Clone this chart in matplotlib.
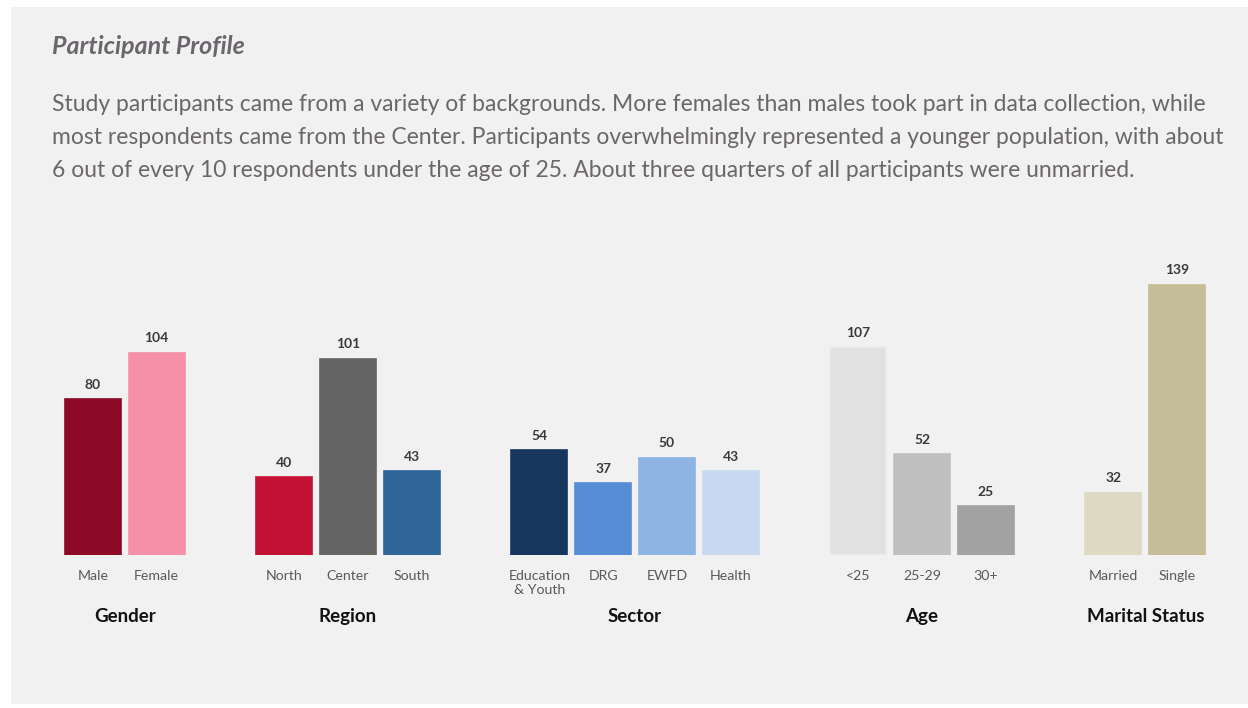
import matplotlib.pyplot as plt
from matplotlib.patches import Rectangle
from matplotlib.transforms import blended_transform_factory

# Participant counts per breakdown
group_names = ["Gender", "Region", "Sector", "Age", "Marital Status"]
gender_labels = ["Male", "Female"]
gender_counts = [80, 104]
region_labels = ["North", "Center", "South"]
region_counts = [40, 101, 43]
sector_labels = ["Education\n& Youth", "DRG", "EWFD", "Health"]
sector_counts = [54, 37, 50, 43]
age_labels = ["<25", "25-29", "30+"]
age_counts = [107, 52, 25]
marital_labels = ["Married", "Single"]
marital_counts = [32, 139]

gender_colors = ["#8c0a28", "#f590a8"]
region_colors = ["#c41234", "#646464", "#2f6699"]
sector_colors = ["#17375e", "#558ed5", "#8eb4e3", "#c6d9f1"]
age_colors = ["#e1e1e1", "#c0c0c0", "#a2a2a2"]
marital_colors = ["#ddd9c3", "#c4bd97"]

title = "Participant Profile"
body = ("Study participants came from a variety of backgrounds. More females than males took part in data collection, while\n"
        "most respondents came from the Center. Participants overwhelmingly represented a younger population, with about\n"
        "6 out of every 10 respondents under the age of 25. About three quarters of all participants were unmarried.")

groups = [
    (gender_labels, gender_counts, gender_colors),
    (region_labels, region_counts, region_colors),
    (sector_labels, sector_counts, sector_colors),
    (age_labels, age_counts, age_colors),
    (marital_labels, marital_counts, marital_colors),
]

W, H = 1248, 708
fig = plt.figure(figsize=(W / 100, H / 100), dpi=100)
fig.patch.set_facecolor("white")
fig.patches.append(Rectangle((11 / W, 4 / H), 1 - 11 / W, (H - 11) / H,
                             transform=fig.transFigure, facecolor="#f1f1f1",
                             edgecolor="none", zorder=-1))

fig.text(52 / W, 1 - 47 / H, title, fontsize=18, fontweight="bold", style="italic",
         color="#6b666b", family="Lato", va="center")
fig.text(52 / W, 1 - 94 / H, body, fontsize=16.5, color="#6b666b", family="Lato",
         va="top", linespacing=1.7)

# one slot gap between groups
left_px, right_px = 29, 1241
base_px, scale = 555, 1.945
ymax = 150
ax = fig.add_axes([left_px / W, (H - base_px) / H, (right_px - left_px) / W, ymax * scale / H])
ax.set_facecolor("none")
ax.set_xlim(-1, 18)
ax.set_ylim(0, ymax)
for s in ax.spines.values():
    s.set_visible(False)
ax.set_yticks([])

trans = blended_transform_factory(ax.transData, ax.transAxes)
slot = 0
ticks, tick_labels = [], []
for name, (labels, counts, colors) in zip(group_names, groups):
    xs = [slot + i for i in range(len(labels))]
    edge = ["#ececec" if c == "#e1e1e1" else c for c in colors]
    bars = ax.bar(xs, counts, width=0.88, color=colors, edgecolor=edge, linewidth=1.2)
    for b, v in zip(bars, counts):
        ax.annotate(str(v), (b.get_x() + b.get_width() / 2, v), xytext=(0, 6),
                    textcoords="offset points", ha="center", va="bottom",
                    fontsize=10, fontweight="bold", color="#3a3a3a", family="Lato")
    ax.text(sum(xs) / len(xs), -0.21, name, transform=trans, ha="center", va="center",
            fontsize=13.5, fontweight="bold", color="#111111", family="Lato")
    ticks += xs
    tick_labels += labels
    slot += len(labels) + 1

ax.set_xticks(ticks, tick_labels)
ax.tick_params(axis="x", length=0, pad=11, labelsize=10.2, labelcolor="#5a5a5a")
for t in ax.get_xticklabels():
    t.set_family("Lato")
    t.set_linespacing(1.2)

fig.savefig("out.png", dpi=100)
